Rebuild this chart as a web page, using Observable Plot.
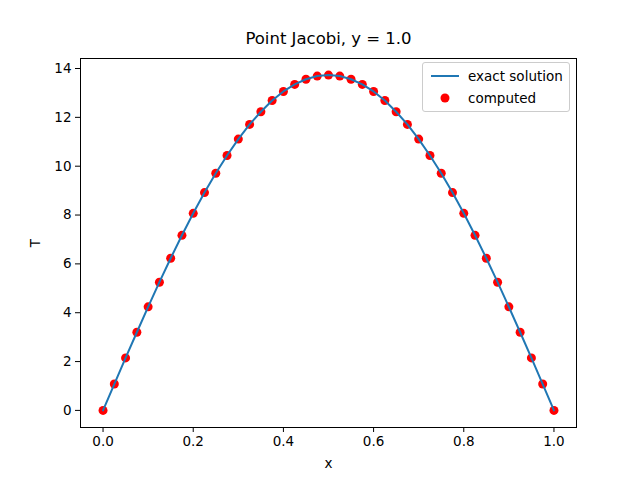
<!DOCTYPE html>
<html><head><meta charset="utf-8">
<script src="https://cdn.jsdelivr.net/npm/d3@7"></script>
<script src="https://cdn.jsdelivr.net/npm/@observablehq/plot@0.6"></script>
<style>body{margin:0;background:#fff;font-family:"DejaVu Sans",sans-serif}#wrap{position:relative;width:640px;height:480px}
#leg{position:absolute;left:422px;top:62px;width:146px;height:48px;border:1px solid #ccc;border-radius:3px;background:#fff;font-size:13.5px}
.row{position:absolute;left:8px;display:flex;align-items:center}</style>
</head><body><div id="wrap"><div id="leg">
<div class="row" style="top:5px"><svg width="30" height="16"><line x1="0" y1="8" x2="28" y2="8" stroke="#1f77b4" stroke-width="2"/></svg><span style="margin-left:7px">exact solution</span></div>
<div class="row" style="top:27px"><svg width="30" height="16"><circle cx="14" cy="8" r="4.5" fill="red"/></svg><span style="margin-left:7px">computed</span></div>
</div></div>
<script>
const xs=[0,0.025,0.05,0.075,0.1,0.125,0.15,0.175,0.2,0.225,0.25,0.275,0.3,0.325,0.35,0.375,0.4,0.425,0.45,0.475,0.5,0.525,0.55,0.575,0.6,0.625,0.65,0.675,0.7,0.725,0.75,0.775,0.8,0.825,0.85,0.875,0.9,0.925,0.95,0.975,1];
const half=[0,1.08,2.15,3.20,4.24,5.25,6.23,7.17,8.07,8.92,9.71,10.44,11.11,11.71,12.23,12.69,13.06,13.35,13.56,13.69,13.73];
const T=[...half,...half.slice(0,20).reverse()];
const data=xs.map((x,i)=>({x,T:T[i]}));
const xTicks=[0,0.2,0.4,0.6,0.8,1.0];
const yTicks=[0,2,4,6,8,10,12,14];
const p=Plot.plot({width:640,height:480,marginLeft:80,marginRight:64,marginTop:58,marginBottom:53,
style:{fontFamily:"DejaVu Sans",fontSize:"13.5px",color:"#000"},
x:{domain:[-0.05,1.05],ticks:xTicks,tickFormat:d3.format(".1f"),label:"x",labelAnchor:"center",labelArrow:"none",tickSize:5,labelOffset:40},
y:{domain:[-0.7,14.41],ticks:yTicks,tickFormat:d=>d,label:"T",labelAnchor:"center",labelArrow:"none",tickSize:5,labelOffset:50},
marks:[Plot.frame(),
Plot.dot(data,{x:"x",y:"T",r:4.5,fill:"red"}),
Plot.line(data,{x:"x",y:"T",stroke:"#1f77b4",strokeWidth:2}),
Plot.text(["Point Jacobi, y = 1.0"],{frameAnchor:"top",dy:-15,lineAnchor:"bottom",fontSize:16.5,text:d=>d})]});
document.getElementById("wrap").prepend(p);
</script></body></html>
